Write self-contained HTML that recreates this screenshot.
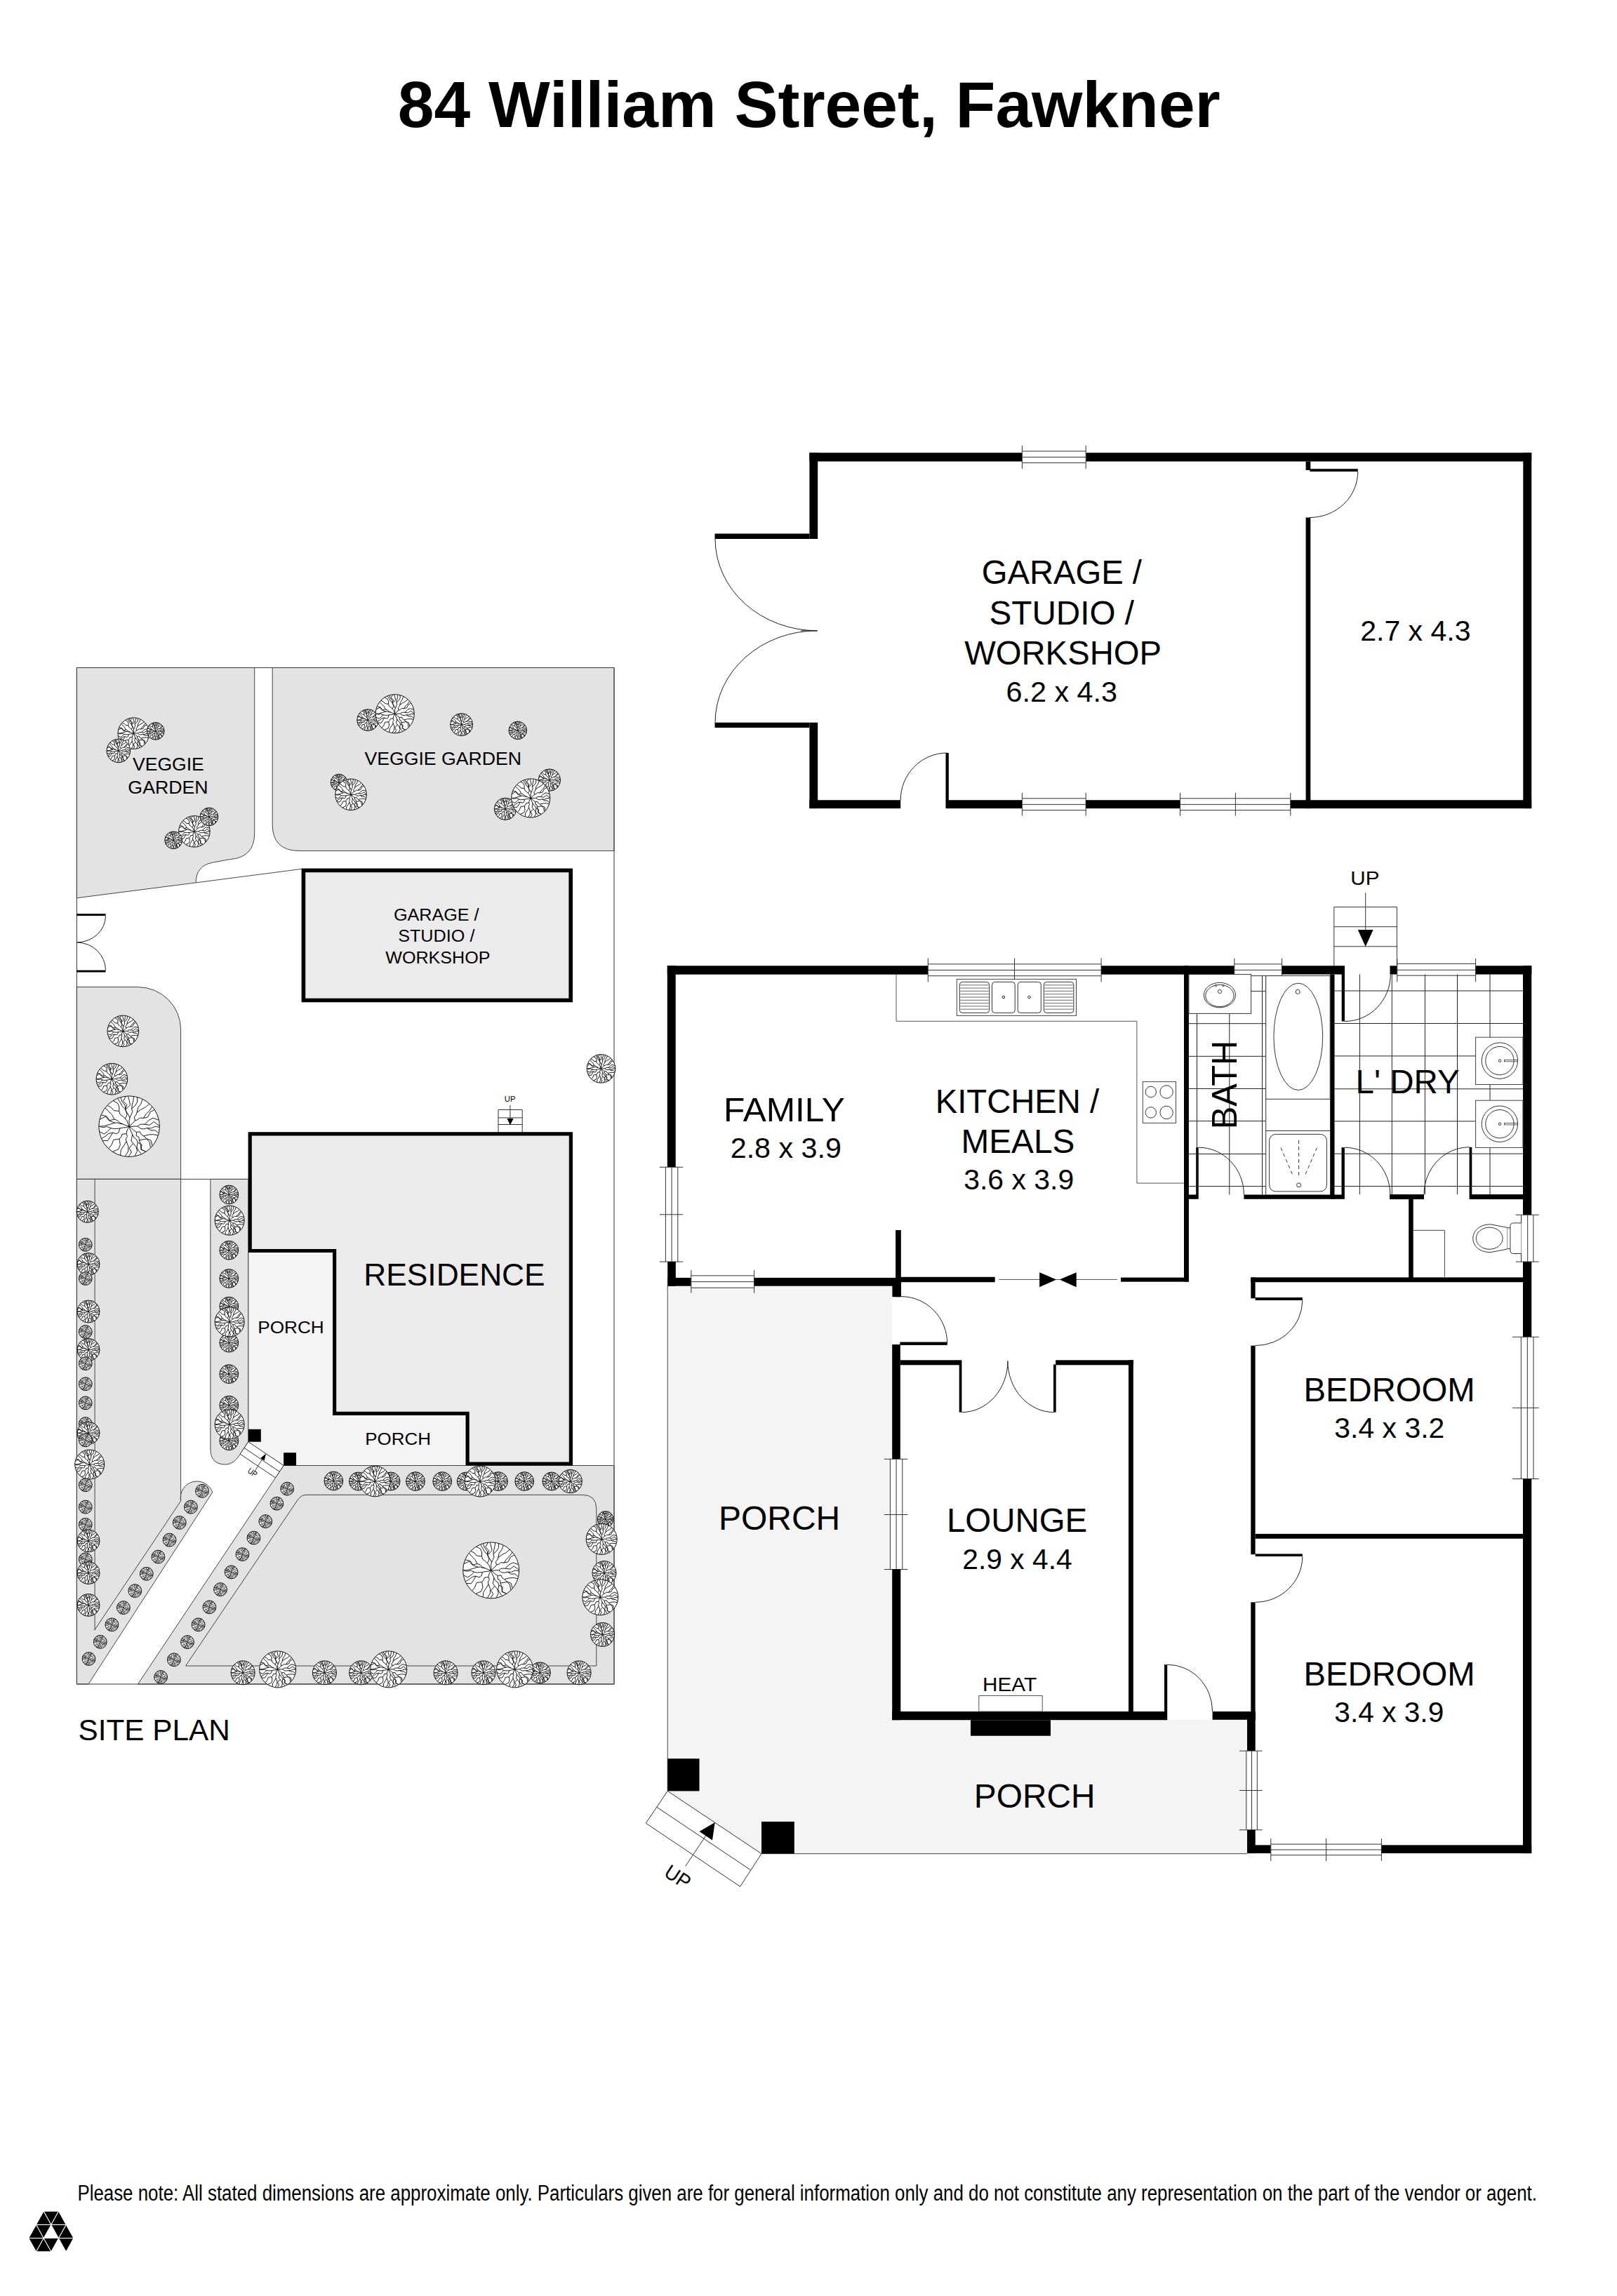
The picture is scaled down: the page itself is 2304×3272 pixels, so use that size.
<!DOCTYPE html>
<html><head><meta charset="utf-8"><style>
html,body{margin:0;padding:0;background:#fff;}
svg{display:block;font-family:"Liberation Sans",sans-serif;}
</style></head><body>
<svg width="2304" height="3272" viewBox="0 0 2304 3272">
<defs><g id="tree"><circle r="1" fill="#fff" stroke="#111" stroke-width="1" vector-effect="non-scaling-stroke"/><path d="M0.000 0.000L0.092 0.006L0.184 -0.004L0.276 -0.004M0.276 -0.004L0.350 -0.065L0.429 -0.070L0.510 -0.068M0.510 -0.068L0.642 -0.201L0.784 -0.278L0.968 -0.208M0.510 -0.068L0.671 -0.045L0.817 -0.153L0.990 -0.015M0.276 -0.004L0.375 0.070L0.479 0.086L0.590 0.056M0.590 0.056L0.722 0.062L0.857 0.001L0.990 0.025M0.590 0.056L0.713 0.133L0.848 0.126L0.965 0.221M0.000 0.000L0.079 0.064L0.154 0.132L0.237 0.191M0.237 0.191L0.352 0.175L0.400 0.268L0.474 0.317M0.474 0.317L0.657 0.270L0.807 0.266L0.945 0.296M0.474 0.317L0.581 0.408L0.715 0.460L0.759 0.636M0.237 0.191L0.236 0.312L0.319 0.355L0.332 0.456M0.332 0.456L0.575 0.411L0.671 0.519L0.701 0.699M0.332 0.456L0.379 0.596L0.388 0.754L0.543 0.828M0.000 0.000L0.024 0.091L0.064 0.178L0.104 0.263M0.104 0.263L0.150 0.358L0.242 0.431L0.281 0.529M0.281 0.529L0.415 0.600L0.391 0.766L0.546 0.826M0.281 0.529L0.249 0.686L0.310 0.802L0.399 0.906M0.104 0.263L0.086 0.371L0.065 0.474L0.132 0.561M0.132 0.561L0.229 0.677L0.264 0.810L0.186 0.972M0.132 0.561L-0.002 0.714L0.074 0.849L-0.018 0.990M0.000 0.000L-0.042 0.076L-0.077 0.155L-0.093 0.242M-0.093 0.242L-0.059 0.335L-0.111 0.405L-0.093 0.492M-0.093 0.492L-0.027 0.663L-0.036 0.826L-0.131 0.981M-0.093 0.492L-0.179 0.639L-0.273 0.780L-0.288 0.947M-0.093 0.242L-0.234 0.257L-0.265 0.347L-0.325 0.412M-0.325 0.412L-0.294 0.613L-0.357 0.755L-0.541 0.829M-0.325 0.412L-0.517 0.442L-0.576 0.604L-0.675 0.724M0.000 0.000L-0.099 0.034L-0.205 0.041L-0.307 0.065M-0.307 0.065L-0.348 0.200L-0.421 0.248L-0.538 0.206M-0.538 0.206L-0.624 0.347L-0.709 0.473L-0.875 0.463M-0.538 0.206L-0.674 0.236L-0.788 0.325L-0.907 0.397M-0.307 0.065L-0.405 0.075L-0.503 0.078L-0.603 0.057M-0.603 0.057L-0.714 0.170L-0.825 0.250L-0.974 0.177M-0.603 0.057L-0.734 0.006L-0.861 0.036L-0.990 -0.003M0.000 0.000L-0.073 -0.020L-0.144 -0.046L-0.213 -0.077M-0.213 -0.077L-0.299 -0.088L-0.379 -0.119L-0.468 -0.117M-0.468 -0.117L-0.648 -0.063L-0.821 -0.014L-0.990 0.002M-0.468 -0.117L-0.629 -0.171L-0.747 -0.339L-0.916 -0.375M-0.213 -0.077L-0.310 -0.118L-0.389 -0.199L-0.489 -0.234M-0.489 -0.234L-0.665 -0.189L-0.775 -0.327L-0.963 -0.229M-0.489 -0.234L-0.572 -0.388L-0.679 -0.495L-0.782 -0.607M0.000 0.000L-0.038 -0.089L-0.071 -0.180L-0.134 -0.258M-0.134 -0.258L-0.212 -0.332L-0.301 -0.396L-0.330 -0.501M-0.330 -0.501L-0.510 -0.523L-0.594 -0.622L-0.715 -0.685M-0.330 -0.501L-0.330 -0.651L-0.385 -0.769L-0.525 -0.839M-0.134 -0.258L-0.069 -0.379L-0.096 -0.470L-0.130 -0.559M-0.130 -0.559L-0.235 -0.673L-0.303 -0.796L-0.376 -0.916M-0.130 -0.559L-0.072 -0.709L-0.200 -0.828L-0.115 -0.983M0.000 0.000L0.003 -0.093L-0.003 -0.187L0.019 -0.279M0.019 -0.279L-0.019 -0.373L-0.079 -0.461L-0.119 -0.549M-0.119 -0.549L-0.136 -0.691L-0.235 -0.814L-0.280 -0.950M-0.119 -0.549L0.034 -0.704L0.003 -0.847L-0.035 -0.989M0.019 -0.279L0.062 -0.378L0.108 -0.474L0.082 -0.584M0.082 -0.584L0.098 -0.716L0.132 -0.846L0.147 -0.979M0.082 -0.584L0.203 -0.694L0.270 -0.813L0.266 -0.953M0.000 0.000L0.066 -0.061L0.132 -0.122L0.194 -0.188M0.194 -0.188L0.166 -0.311L0.224 -0.373L0.252 -0.452M0.252 -0.452L0.288 -0.610L0.384 -0.739L0.435 -0.889M0.252 -0.452L0.386 -0.553L0.539 -0.635L0.660 -0.738M0.194 -0.188L0.281 -0.222L0.348 -0.280L0.463 -0.269M0.463 -0.269L0.553 -0.406L0.663 -0.513L0.754 -0.642M0.463 -0.269L0.614 -0.307L0.691 -0.475L0.828 -0.543" fill="none" stroke="#111" stroke-width="0.95" vector-effect="non-scaling-stroke"/></g><g id="treeS"><circle r="1" fill="#fff" stroke="#111" stroke-width="1" vector-effect="non-scaling-stroke"/><path d="M0.000 0.000L0.098 0.009L0.195 0.023L0.293 0.024M0.293 0.024L0.363 -0.066L0.441 -0.042L0.512 -0.076M0.512 -0.076L0.622 -0.261L0.786 -0.272L0.922 -0.361M0.512 -0.076L0.675 -0.008L0.832 -0.005L0.984 -0.106M0.293 0.024L0.367 0.077L0.432 0.144L0.513 0.156M0.513 0.156L0.672 0.145L0.835 0.079L0.974 0.178M0.513 0.156L0.663 0.182L0.813 0.204L0.911 0.388M0.000 0.000L0.057 0.057L0.116 0.112L0.191 0.148M0.191 0.148L0.290 0.164L0.386 0.177L0.436 0.275M0.436 0.275L0.612 0.282L0.760 0.338L0.942 0.303M0.436 0.275L0.559 0.377L0.706 0.441L0.842 0.521M0.191 0.148L0.203 0.244L0.234 0.315L0.318 0.344M0.318 0.344L0.470 0.438L0.600 0.553L0.663 0.735M0.318 0.344L0.323 0.555L0.431 0.693L0.497 0.856M0.000 0.000L-0.011 0.074L0.004 0.150L-0.024 0.224M-0.024 0.224L0.026 0.298L0.061 0.369L0.056 0.444M0.056 0.444L0.184 0.601L0.218 0.779L0.131 0.981M0.056 0.444L0.075 0.624L0.015 0.809L-0.012 0.990M-0.024 0.224L-0.077 0.321L-0.102 0.423L-0.143 0.521M-0.143 0.521L-0.034 0.689L-0.138 0.829L-0.171 0.975M-0.143 0.521L-0.313 0.615L-0.266 0.797L-0.462 0.875M0.000 0.000L-0.053 0.066L-0.114 0.125L-0.150 0.205M-0.150 0.205L-0.140 0.316L-0.178 0.399L-0.203 0.488M-0.203 0.488L-0.207 0.650L-0.329 0.769L-0.440 0.887M-0.203 0.488L-0.310 0.608L-0.365 0.752L-0.576 0.805M-0.150 0.205L-0.261 0.226L-0.321 0.296L-0.410 0.332M-0.410 0.332L-0.449 0.513L-0.546 0.633L-0.596 0.790M-0.410 0.332L-0.606 0.312L-0.674 0.495L-0.844 0.518M0.000 0.000L-0.077 -0.011L-0.153 -0.028L-0.231 -0.029M-0.231 -0.029L-0.308 0.032L-0.382 0.060L-0.463 0.014M-0.463 0.014L-0.626 0.128L-0.810 0.084L-0.982 0.128M-0.463 0.014L-0.636 -0.059L-0.815 0.001L-0.990 -0.005M-0.231 -0.029L-0.317 -0.095L-0.414 -0.109L-0.506 -0.145M-0.506 -0.145L-0.669 -0.126L-0.799 -0.244L-0.948 -0.285M-0.506 -0.145L-0.625 -0.269L-0.775 -0.312L-0.929 -0.343M0.000 0.000L-0.062 -0.054L-0.123 -0.110L-0.199 -0.147M-0.199 -0.147L-0.304 -0.167L-0.392 -0.213L-0.474 -0.268M-0.474 -0.268L-0.639 -0.269L-0.798 -0.266L-0.927 -0.348M-0.474 -0.268L-0.563 -0.404L-0.690 -0.481L-0.851 -0.507M-0.199 -0.147L-0.223 -0.272L-0.294 -0.350L-0.404 -0.390M-0.404 -0.390L-0.544 -0.448L-0.611 -0.587L-0.740 -0.658M-0.404 -0.390L-0.359 -0.606L-0.454 -0.716L-0.507 -0.850M0.000 0.000L-0.000 -0.095L0.003 -0.190L-0.021 -0.284M-0.021 -0.284L-0.082 -0.378L-0.078 -0.483L-0.097 -0.583M-0.097 -0.583L-0.256 -0.677L-0.355 -0.780L-0.299 -0.944M-0.097 -0.583L-0.035 -0.723L-0.112 -0.850L-0.091 -0.986M-0.021 -0.284L0.075 -0.374L0.046 -0.477L0.118 -0.564M0.118 -0.564L0.043 -0.713L0.013 -0.852L0.052 -0.989M0.118 -0.564L0.232 -0.676L0.257 -0.813L0.312 -0.939M0.000 0.000L0.047 -0.063L0.098 -0.123L0.132 -0.196M0.132 -0.196L0.122 -0.307L0.187 -0.381L0.208 -0.476M0.208 -0.476L0.210 -0.642L0.285 -0.783L0.316 -0.938M0.208 -0.476L0.315 -0.598L0.367 -0.748L0.504 -0.852M0.132 -0.196L0.241 -0.213L0.304 -0.272L0.347 -0.352M0.347 -0.352L0.362 -0.551L0.502 -0.654L0.585 -0.799M0.347 -0.352L0.542 -0.376L0.652 -0.505L0.854 -0.501" fill="none" stroke="#111" stroke-width="0.75" vector-effect="non-scaling-stroke"/></g></defs>
<rect width="2304" height="3272" fill="#fff"/>
<text x="566.79" y="181" font-size="93.28" font-weight="700" textLength="1172.01" lengthAdjust="spacingAndGlyphs" fill="#000">84 William Street, Fawkner</text>
<rect x="1153.4" y="645.2" width="303" height="12.4" fill="#000"/>
<rect x="1547.2" y="645.2" width="635" height="12.4" fill="#000"/>
<rect x="1456.4" y="643" width="90.8" height="16.6" fill="#fff"/>
<line x1="1456.4" y1="643" x2="1547.2" y2="643" stroke="#333" stroke-width="1"/>
<line x1="1456.4" y1="651.4" x2="1547.2" y2="651.4" stroke="#333" stroke-width="1"/>
<line x1="1456.4" y1="659.6" x2="1547.2" y2="659.6" stroke="#333" stroke-width="1"/>
<line x1="1456.4" y1="634.8" x2="1456.4" y2="668.2" stroke="#333" stroke-width="1"/>
<line x1="1547.2" y1="634.8" x2="1547.2" y2="668.2" stroke="#333" stroke-width="1"/>
<rect x="1153.4" y="645.2" width="11.8" height="122.8" fill="#000"/>
<rect x="1018.5" y="760.5" width="134.9" height="7.5" fill="#000"/>
<rect x="1018.5" y="1029.7" width="134.9" height="7.3" fill="#000"/>
<rect x="1153.4" y="1029.7" width="11.8" height="122.4" fill="#000"/>
<path d="M1019 768A145.5 130.8 0 0 0 1164.5 898.8" fill="none" stroke="#222" stroke-width="1"/>
<path d="M1164.5 898.8A145.5 130.9 0 0 0 1019 1029.7" fill="none" stroke="#222" stroke-width="1"/>
<line x1="1141" y1="898.8" x2="1164.5" y2="898.8" stroke="#222" stroke-width="1"/>
<rect x="1153.4" y="1140.2" width="129.8" height="11.9" fill="#000"/>
<rect x="1347.5" y="1073" width="4.3" height="79.1" fill="#000"/>
<path d="M1283.2 1140.2A66.3 67.2 0 0 1 1349.5 1073" fill="none" stroke="#222" stroke-width="1"/>
<rect x="1351.3" y="1140.2" width="105.1" height="11.9" fill="#000"/>
<rect x="1456.4" y="1137.8" width="90.8" height="16.8" fill="#fff"/>
<line x1="1456.4" y1="1137.8" x2="1547.2" y2="1137.8" stroke="#333" stroke-width="1"/>
<line x1="1456.4" y1="1146.4" x2="1547.2" y2="1146.4" stroke="#333" stroke-width="1"/>
<line x1="1456.4" y1="1154.6" x2="1547.2" y2="1154.6" stroke="#333" stroke-width="1"/>
<line x1="1456.4" y1="1129.8" x2="1456.4" y2="1162.7" stroke="#333" stroke-width="1"/>
<line x1="1547.2" y1="1129.8" x2="1547.2" y2="1162.7" stroke="#333" stroke-width="1"/>
<rect x="1547.2" y="1140.2" width="134.3" height="11.9" fill="#000"/>
<rect x="1681.5" y="1137.8" width="157.3" height="16.8" fill="#fff"/>
<line x1="1681.5" y1="1137.8" x2="1838.8" y2="1137.8" stroke="#333" stroke-width="1"/>
<line x1="1681.5" y1="1146.4" x2="1838.8" y2="1146.4" stroke="#333" stroke-width="1"/>
<line x1="1681.5" y1="1154.6" x2="1838.8" y2="1154.6" stroke="#333" stroke-width="1"/>
<line x1="1681.5" y1="1129.8" x2="1681.5" y2="1162.7" stroke="#333" stroke-width="1"/>
<line x1="1838.8" y1="1129.8" x2="1838.8" y2="1162.7" stroke="#333" stroke-width="1"/>
<line x1="1760.4" y1="1129.8" x2="1760.4" y2="1162.7" stroke="#333" stroke-width="1"/>
<rect x="1838.8" y="1140.2" width="343.4" height="11.9" fill="#000"/>
<rect x="2170.3" y="645.2" width="11.9" height="506.9" fill="#000"/>
<rect x="1860.6" y="657.6" width="6.7" height="12.4" fill="#000"/>
<rect x="1866.3" y="668.2" width="68.5" height="3.8" fill="#000"/>
<path d="M1934.8 672A68.5 65.5 0 0 1 1866.3 737.5" fill="none" stroke="#222" stroke-width="1"/>
<rect x="1860.6" y="737.5" width="6.7" height="414.6" fill="#000"/>
<text x="1398.78" y="832.2" font-size="47.69" textLength="228.2" lengthAdjust="spacingAndGlyphs" fill="#000">GARAGE /</text>
<text x="1409.58" y="889.6" font-size="47.69" textLength="206.4" lengthAdjust="spacingAndGlyphs" fill="#000">STUDIO /</text>
<text x="1374.2" y="946.8" font-size="47.69" textLength="280.81" lengthAdjust="spacingAndGlyphs" fill="#000">WORKSHOP</text>
<text x="1433.55" y="1000" font-size="40.12" textLength="158.49" lengthAdjust="spacingAndGlyphs" fill="#000">6.2 x 4.3</text>
<text x="1938.15" y="913.1" font-size="40.12" textLength="157.47" lengthAdjust="spacingAndGlyphs" fill="#000">2.7 x 4.3</text>
<path d="M951.2 1832.7H1271.3V2451H1777V2641.7H1085L951.2 2552.4Z" fill="#f4f4f4"/>
<line x1="951.2" y1="1832.7" x2="951.2" y2="2552.4" stroke="#444" stroke-width="1"/>
<line x1="1085" y1="2641.7" x2="1777" y2="2641.7" stroke="#444" stroke-width="1"/>
<rect x="950.8" y="1376.3" width="371.5" height="12.4" fill="#000"/>
<rect x="1322.3" y="1373.9" width="246.8" height="16.8" fill="#fff"/>
<line x1="1322.3" y1="1373.9" x2="1569.1" y2="1373.9" stroke="#333" stroke-width="1"/>
<line x1="1322.3" y1="1382.5" x2="1569.1" y2="1382.5" stroke="#333" stroke-width="1"/>
<line x1="1322.3" y1="1390.7" x2="1569.1" y2="1390.7" stroke="#333" stroke-width="1"/>
<line x1="1322.3" y1="1365.5" x2="1322.3" y2="1399.4" stroke="#333" stroke-width="1"/>
<line x1="1569.1" y1="1365.5" x2="1569.1" y2="1399.4" stroke="#333" stroke-width="1"/>
<line x1="1445.5" y1="1365.5" x2="1445.5" y2="1399.4" stroke="#333" stroke-width="1"/>
<rect x="1569.1" y="1376.3" width="189.7" height="12.4" fill="#000"/>
<rect x="1758.8" y="1373.9" width="67.8" height="16.7" fill="#fff"/>
<line x1="1758.8" y1="1373.9" x2="1826.6" y2="1373.9" stroke="#333" stroke-width="1"/>
<line x1="1758.8" y1="1382.4" x2="1826.6" y2="1382.4" stroke="#333" stroke-width="1"/>
<line x1="1758.8" y1="1390.6" x2="1826.6" y2="1390.6" stroke="#333" stroke-width="1"/>
<line x1="1758.8" y1="1365.6" x2="1758.8" y2="1399.2" stroke="#333" stroke-width="1"/>
<line x1="1826.6" y1="1365.6" x2="1826.6" y2="1399.2" stroke="#333" stroke-width="1"/>
<rect x="1826.6" y="1376.3" width="85.9" height="12.3" fill="#000"/>
<rect x="1980.5" y="1376.3" width="10.3" height="12.3" fill="#000"/>
<rect x="1990.8" y="1373.4" width="111.8" height="16.8" fill="#fff"/>
<line x1="1990.8" y1="1373.4" x2="2102.6" y2="1373.4" stroke="#333" stroke-width="1"/>
<line x1="1990.8" y1="1382.3" x2="2102.6" y2="1382.3" stroke="#333" stroke-width="1"/>
<line x1="1990.8" y1="1390.2" x2="2102.6" y2="1390.2" stroke="#333" stroke-width="1"/>
<line x1="1990.8" y1="1365.9" x2="1990.8" y2="1399.1" stroke="#333" stroke-width="1"/>
<line x1="2102.6" y1="1365.9" x2="2102.6" y2="1399.1" stroke="#333" stroke-width="1"/>
<rect x="2102.6" y="1376.3" width="79.7" height="12.3" fill="#000"/>
<rect x="2170" y="1376.3" width="12.2" height="355" fill="#000"/>
<rect x="2167.5" y="1731.3" width="17.4" height="66.8" fill="#fff"/>
<line x1="2167.5" y1="1731.3" x2="2167.5" y2="1798.1" stroke="#333" stroke-width="1"/>
<line x1="2176.7" y1="1731.3" x2="2176.7" y2="1798.1" stroke="#333" stroke-width="1"/>
<line x1="2184.9" y1="1731.3" x2="2184.9" y2="1798.1" stroke="#333" stroke-width="1"/>
<line x1="2159.6" y1="1731.3" x2="2192.7" y2="1731.3" stroke="#333" stroke-width="1"/>
<line x1="2159.6" y1="1798.1" x2="2192.7" y2="1798.1" stroke="#333" stroke-width="1"/>
<rect x="2170" y="1798.1" width="12.2" height="107.2" fill="#000"/>
<rect x="2167.3" y="1905.3" width="17.7" height="202.2" fill="#fff"/>
<line x1="2167.3" y1="1905.3" x2="2167.3" y2="2107.5" stroke="#333" stroke-width="1"/>
<line x1="2176.3" y1="1905.3" x2="2176.3" y2="2107.5" stroke="#333" stroke-width="1"/>
<line x1="2185" y1="1905.3" x2="2185" y2="2107.5" stroke="#333" stroke-width="1"/>
<line x1="2155" y1="1905.3" x2="2192.7" y2="1905.3" stroke="#333" stroke-width="1"/>
<line x1="2155" y1="2107.5" x2="2192.7" y2="2107.5" stroke="#333" stroke-width="1"/>
<line x1="2155" y1="2006.3" x2="2192.7" y2="2006.3" stroke="#333" stroke-width="1"/>
<rect x="2170" y="2107.5" width="12.2" height="533.6" fill="#000"/>
<rect x="1777" y="2629.4" width="33.8" height="11.7" fill="#000"/>
<rect x="1810.8" y="2628.1" width="157.6" height="15.6" fill="#fff"/>
<line x1="1810.8" y1="2628.1" x2="1968.4" y2="2628.1" stroke="#333" stroke-width="1"/>
<line x1="1810.8" y1="2636" x2="1968.4" y2="2636" stroke="#333" stroke-width="1"/>
<line x1="1810.8" y1="2643.7" x2="1968.4" y2="2643.7" stroke="#333" stroke-width="1"/>
<line x1="1810.8" y1="2620" x2="1810.8" y2="2652" stroke="#333" stroke-width="1"/>
<line x1="1968.4" y1="2620" x2="1968.4" y2="2652" stroke="#333" stroke-width="1"/>
<line x1="1889.6" y1="2620" x2="1889.6" y2="2652" stroke="#333" stroke-width="1"/>
<rect x="1968.4" y="2629.4" width="213.8" height="11.7" fill="#000"/>
<rect x="1777" y="2439" width="11.7" height="56.2" fill="#000"/>
<rect x="1775.8" y="2495.2" width="15.5" height="112.6" fill="#fff"/>
<line x1="1775.8" y1="2495.2" x2="1775.8" y2="2607.8" stroke="#333" stroke-width="1"/>
<line x1="1783.5" y1="2495.2" x2="1783.5" y2="2607.8" stroke="#333" stroke-width="1"/>
<line x1="1791.3" y1="2495.2" x2="1791.3" y2="2607.8" stroke="#333" stroke-width="1"/>
<line x1="1766" y1="2495.2" x2="1798.7" y2="2495.2" stroke="#333" stroke-width="1"/>
<line x1="1766" y1="2607.8" x2="1798.7" y2="2607.8" stroke="#333" stroke-width="1"/>
<line x1="1766" y1="2551.5" x2="1798.7" y2="2551.5" stroke="#333" stroke-width="1"/>
<rect x="1777" y="2607.8" width="11.7" height="33.3" fill="#000"/>
<rect x="1782.3" y="1820.4" width="6.3" height="29.9" fill="#000"/>
<rect x="1788.6" y="1849" width="67.2" height="4" fill="#000"/>
<path d="M1855.8 1853A67.2 64.6 0 0 1 1788.6 1917.6" fill="none" stroke="#222" stroke-width="1"/>
<rect x="1782.3" y="1917.6" width="6.3" height="297.6" fill="#000"/>
<rect x="1788.6" y="2214.4" width="67.2" height="3.6" fill="#000"/>
<path d="M1855.8 2218A67.2 65.3 0 0 1 1788.6 2283.3" fill="none" stroke="#222" stroke-width="1"/>
<rect x="1782.3" y="2283.3" width="6.3" height="157.7" fill="#000"/>
<rect x="1782.3" y="1820.4" width="387.7" height="6.8" fill="#000"/>
<rect x="1788.6" y="2185.9" width="381.4" height="6.8" fill="#000"/>
<rect x="950.8" y="1376.3" width="11.9" height="287" fill="#000"/>
<rect x="948.4" y="1663.3" width="17.4" height="134.8" fill="#fff"/>
<line x1="948.4" y1="1663.3" x2="948.4" y2="1798.1" stroke="#333" stroke-width="1"/>
<line x1="957.1" y1="1663.3" x2="957.1" y2="1798.1" stroke="#333" stroke-width="1"/>
<line x1="965.8" y1="1663.3" x2="965.8" y2="1798.1" stroke="#333" stroke-width="1"/>
<line x1="939.8" y1="1663.3" x2="973.2" y2="1663.3" stroke="#333" stroke-width="1"/>
<line x1="939.8" y1="1798.1" x2="973.2" y2="1798.1" stroke="#333" stroke-width="1"/>
<line x1="939.8" y1="1730.8" x2="973.2" y2="1730.8" stroke="#333" stroke-width="1"/>
<rect x="951.2" y="1798.1" width="11.6" height="34.6" fill="#000"/>
<rect x="951.2" y="1820.9" width="33.6" height="11.8" fill="#000"/>
<rect x="984.8" y="1817.9" width="89.8" height="17.3" fill="#fff"/>
<line x1="984.8" y1="1817.9" x2="1074.6" y2="1817.9" stroke="#333" stroke-width="1"/>
<line x1="984.8" y1="1826.6" x2="1074.6" y2="1826.6" stroke="#333" stroke-width="1"/>
<line x1="984.8" y1="1835.2" x2="1074.6" y2="1835.2" stroke="#333" stroke-width="1"/>
<line x1="984.8" y1="1810" x2="984.8" y2="1842.6" stroke="#333" stroke-width="1"/>
<line x1="1074.6" y1="1810" x2="1074.6" y2="1842.6" stroke="#333" stroke-width="1"/>
<rect x="1074.6" y="1820.9" width="208.6" height="11.8" fill="#000"/>
<rect x="1276.1" y="1753" width="7.7" height="95.2" fill="#000"/>
<rect x="1271.4" y="1827.2" width="12.4" height="21" fill="#000"/>
<rect x="1276" y="1819.8" width="141.7" height="7.4" fill="#000"/>
<line x1="1423.3" y1="1823.5" x2="1591.8" y2="1823.5" stroke="#555" stroke-width="1"/>
<path d="M1481.1 1813.3L1505.2 1823.5L1481.1 1834.3Z" fill="#000"/>
<path d="M1533.7 1813.3L1509.8 1823.5L1533.7 1834.3Z" fill="#000"/>
<rect x="1597" y="1820.6" width="96.5" height="6" fill="#000"/>
<rect x="1687" y="1376.3" width="6.9" height="450.3" fill="#000"/>
<rect x="1282.3" y="1912.5" width="67.4" height="4.4" fill="#000"/>
<path d="M1283.8 1847.6A65.9 67.1 0 0 1 1349.7 1914.7" fill="none" stroke="#222" stroke-width="1"/>
<rect x="1271.2" y="1916" width="11.6" height="163.3" fill="#000"/>
<rect x="1268.4" y="2079.3" width="17.4" height="157.2" fill="#fff"/>
<line x1="1268.4" y1="2079.3" x2="1268.4" y2="2236.5" stroke="#333" stroke-width="1"/>
<line x1="1277.1" y1="2079.3" x2="1277.1" y2="2236.5" stroke="#333" stroke-width="1"/>
<line x1="1285.8" y1="2079.3" x2="1285.8" y2="2236.5" stroke="#333" stroke-width="1"/>
<line x1="1259.8" y1="2079.3" x2="1293.2" y2="2079.3" stroke="#333" stroke-width="1"/>
<line x1="1259.8" y1="2236.5" x2="1293.2" y2="2236.5" stroke="#333" stroke-width="1"/>
<line x1="1259.8" y1="2158.5" x2="1293.2" y2="2158.5" stroke="#333" stroke-width="1"/>
<rect x="1271.2" y="2236.5" width="12.1" height="214.7" fill="#000"/>
<rect x="1282.8" y="1938.3" width="84.6" height="7" fill="#000"/>
<rect x="1366.7" y="1938.3" width="3.7" height="74.3" fill="#000"/>
<rect x="1501" y="1944.5" width="3.7" height="68.1" fill="#000"/>
<rect x="1504.2" y="1938.3" width="110.6" height="7" fill="#000"/>
<path d="M1370.4 2012.6A65.5 73 0 0 0 1435.9 1939.6" fill="none" stroke="#222" stroke-width="1"/>
<path d="M1435.9 1939.6A65.8 73 0 0 0 1501.7 2012.6" fill="none" stroke="#222" stroke-width="1"/>
<rect x="1608" y="1938.3" width="6.8" height="500.7" fill="#000"/>
<rect x="1271.2" y="2439" width="388.9" height="12.2" fill="#000"/>
<rect x="1659" y="2372.2" width="4.2" height="79" fill="#000"/>
<path d="M1663.2 2372.2A64.4 66.8 0 0 1 1727.6 2439" fill="none" stroke="#222" stroke-width="1"/>
<rect x="1727.6" y="2439" width="61.4" height="11.8" fill="#000"/>
<rect x="1383" y="2451.2" width="114" height="22.5" fill="#000"/>
<rect x="1394.8" y="2416.5" width="90.4" height="22.5" fill="none" stroke="#555" stroke-width="1"/>
<rect x="951.2" y="2506.2" width="45.3" height="46.2" fill="#000"/>
<rect x="1085" y="2596" width="46.8" height="45.7" fill="#000"/>
<path d="M951.2 2552.4L1085 2641.7L1054.6 2688.5L920.3 2598.2Z" fill="#fff" stroke="#333" stroke-width="1"/>
<line x1="935.8" y1="2575.3" x2="1069.8" y2="2665.1" stroke="#333" stroke-width="1"/>
<line x1="976.7" y1="2659.5" x2="1008" y2="2612.5" stroke="#333" stroke-width="1"/>
<path d="M1018.7 2597L996.5 2610L1015 2622.4Z" fill="#000"/>
<rect x="1895.2" y="1388.6" width="6.3" height="320.2" fill="#000"/>
<rect x="1687" y="1702.5" width="17.7" height="6.3" fill="#000"/>
<rect x="1704.1" y="1635.2" width="3.6" height="73.6" fill="#000"/>
<path d="M1707.7 1635.2A64.7 67.3 0 0 1 1772.4 1702.5" fill="none" stroke="#222" stroke-width="1"/>
<rect x="1772.4" y="1702.5" width="140.1" height="6.3" fill="#000"/>
<rect x="1911.5" y="1635.2" width="4.4" height="73.6" fill="#000"/>
<path d="M1915.9 1635.2A64.9 67.3 0 0 1 1980.8 1702.5" fill="none" stroke="#222" stroke-width="1"/>
<rect x="1911.7" y="1376.3" width="4.3" height="79.2" fill="#000"/>
<path d="M1916 1455.5A65.3 66.9 0 0 0 1981.3 1388.6" fill="none" stroke="#222" stroke-width="1"/>
<rect x="1980" y="1702.1" width="49" height="7" fill="#000"/>
<rect x="2096.8" y="1702.1" width="73.2" height="7" fill="#000"/>
<rect x="2093.6" y="1634.8" width="3.7" height="74.3" fill="#000"/>
<path d="M2093.6 1634.8A64.6 67.6 0 0 0 2029 1702.4" fill="none" stroke="#222" stroke-width="1"/>
<rect x="2007.2" y="1709" width="6.5" height="118" fill="#000"/>
<line x1="1937.4" y1="1388.6" x2="1937.4" y2="1702.1" stroke="#222" stroke-width="1"/>
<line x1="1983.3" y1="1388.6" x2="1983.3" y2="1702.1" stroke="#222" stroke-width="1"/>
<line x1="2030.4" y1="1388.6" x2="2030.4" y2="1702.1" stroke="#222" stroke-width="1"/>
<line x1="2076.5" y1="1388.6" x2="2076.5" y2="1702.1" stroke="#222" stroke-width="1"/>
<line x1="2123" y1="1388.6" x2="2123" y2="1702.1" stroke="#222" stroke-width="1"/>
<line x1="1901.5" y1="1412" x2="2170" y2="1412" stroke="#222" stroke-width="1"/>
<line x1="1901.5" y1="1458.5" x2="2170" y2="1458.5" stroke="#222" stroke-width="1"/>
<line x1="1901.5" y1="1504.9" x2="2170" y2="1504.9" stroke="#222" stroke-width="1"/>
<line x1="1901.5" y1="1551.8" x2="2170" y2="1551.8" stroke="#222" stroke-width="1"/>
<line x1="1901.5" y1="1597.9" x2="2170" y2="1597.9" stroke="#222" stroke-width="1"/>
<line x1="1901.5" y1="1644.2" x2="2170" y2="1644.2" stroke="#222" stroke-width="1"/>
<line x1="1901.5" y1="1690.5" x2="2170" y2="1690.5" stroke="#222" stroke-width="1"/>
<line x1="1782.6" y1="1412.5" x2="1803.7" y2="1412.5" stroke="#333" stroke-width="1"/>
<line x1="1693.9" y1="1458.7" x2="1803.7" y2="1458.7" stroke="#222" stroke-width="1"/>
<line x1="1693.9" y1="1505.3" x2="1803.7" y2="1505.3" stroke="#222" stroke-width="1"/>
<line x1="1693.9" y1="1551.5" x2="1803.7" y2="1551.5" stroke="#222" stroke-width="1"/>
<line x1="1693.9" y1="1597.6" x2="1803.7" y2="1597.6" stroke="#222" stroke-width="1"/>
<line x1="1693.9" y1="1644.5" x2="1803.7" y2="1644.5" stroke="#222" stroke-width="1"/>
<line x1="1693.9" y1="1690.6" x2="1803.7" y2="1690.6" stroke="#222" stroke-width="1"/>
<line x1="1705.5" y1="1444.4" x2="1705.5" y2="1702.5" stroke="#222" stroke-width="1"/>
<line x1="1751.8" y1="1444.4" x2="1751.8" y2="1702.5" stroke="#222" stroke-width="1"/>
<line x1="1798.5" y1="1390.6" x2="1798.5" y2="1702.5" stroke="#222" stroke-width="1"/>
<line x1="1803.7" y1="1390.6" x2="1803.7" y2="1702.5" stroke="#333" stroke-width="1"/>
<rect x="1693.9" y="1388.6" width="88.7" height="55.8" fill="#fff" stroke="#333" stroke-width="1"/>
<ellipse cx="1737.9" cy="1418.1" rx="22.6" ry="17.8" fill="#fff" stroke="#333" stroke-width="1"/>
<ellipse cx="1737.9" cy="1419" rx="20.2" ry="15.6" fill="none" stroke="#333" stroke-width="1"/>
<circle cx="1737.9" cy="1413" r="2.6" fill="none" stroke="#333" stroke-width="0.9"/>
<circle cx="1732.5" cy="1404.6" r="1.3" fill="none" stroke="#333" stroke-width="0.8"/>
<circle cx="1742.9" cy="1404.6" r="1.3" fill="none" stroke="#333" stroke-width="0.8"/>
<rect x="1803.7" y="1390.6" width="91.5" height="175.7" fill="#fff" stroke="#333" stroke-width="1"/>
<ellipse cx="1849.8" cy="1477.3" rx="34.9" ry="76.2" fill="none" stroke="#333" stroke-width="1"/>
<circle cx="1849.2" cy="1413.4" r="3" fill="none" stroke="#333" stroke-width="1"/>
<line x1="1803.7" y1="1611.5" x2="1895.2" y2="1611.5" stroke="#333" stroke-width="1"/>
<rect x="1808.6" y="1616.4" width="81.8" height="81.5" rx="9" fill="none" stroke="#333" stroke-width="1"/>
<path d="M1850.6 1625V1675M1825 1635.6L1843 1677M1876.5 1635.6L1858.5 1677" stroke="#333" stroke-width="1" stroke-dasharray="5 4"/>
<circle cx="1850.6" cy="1688.8" r="3" fill="none" stroke="#333" stroke-width="1"/>
<rect x="2102.6" y="1478.2" width="67.3" height="67.3" fill="#fff" stroke="#444" stroke-width="1"/>
<circle cx="2136.9" cy="1511.6" r="25.7" fill="none" stroke="#333" stroke-width="1"/>
<circle cx="2136.9" cy="1511.6" r="20.2" fill="none" stroke="#333" stroke-width="1"/>
<circle cx="2137" cy="1511.6" r="1.8" fill="none" stroke="#333" stroke-width="1"/>
<rect x="2143.4" y="1510.4" width="18.8" height="2.4" fill="none" stroke="#333" stroke-width="0.8"/>
<rect x="2102.6" y="1568.2" width="67.3" height="67.3" fill="#fff" stroke="#444" stroke-width="1"/>
<circle cx="2136.9" cy="1601.7" r="25.7" fill="none" stroke="#333" stroke-width="1"/>
<circle cx="2136.9" cy="1601.7" r="20.2" fill="none" stroke="#333" stroke-width="1"/>
<circle cx="2137" cy="1601.7" r="1.8" fill="none" stroke="#333" stroke-width="1"/>
<rect x="2143.4" y="1600.5" width="18.8" height="2.4" fill="none" stroke="#333" stroke-width="0.8"/>
<path d="M2013.7 1753.3H2058.4V1819.6" fill="none" stroke="#444" stroke-width="1"/>
<path d="M2167.5 1742.9H2156.4Q2151.9 1742.9 2151.9 1747.4V1782Q2151.9 1786.5 2156.4 1786.5H2167.5" fill="#fff" stroke="#333" stroke-width="1"/>
<path d="M2151.9 1749.8H2147V1779.6H2151.9" fill="none" stroke="#333" stroke-width="1"/>
<path d="M2147 1749.3L2124 1744.8C2106 1744.8 2098.8 1756 2098.8 1764.7C2098.8 1774 2106 1784.6 2124 1784.6L2147 1780.2" fill="#fff" stroke="#333" stroke-width="1"/>
<ellipse cx="2122.2" cy="1764.7" rx="18.9" ry="15.6" fill="none" stroke="#333" stroke-width="1"/>
<path d="M1277 1388.6V1455.3H1619.9V1686.1H1687" fill="none" stroke="#555" stroke-width="1"/>
<rect x="1363.3" y="1395.4" width="170.2" height="52" fill="#fff" stroke="#444" stroke-width="1"/>
<rect x="1367.3" y="1399.4" width="42.3" height="44" rx="4" fill="none" stroke="#333" stroke-width="1"/>
<rect x="1413.5" y="1399.4" width="32.7" height="44" rx="4" fill="none" stroke="#333" stroke-width="1"/>
<rect x="1450.2" y="1399.4" width="33.1" height="44" rx="4" fill="none" stroke="#333" stroke-width="1"/>
<rect x="1487.3" y="1399.4" width="42.5" height="44" rx="4" fill="none" stroke="#333" stroke-width="1"/>
<line x1="1368.3" y1="1403.8" x2="1408.6" y2="1403.8" stroke="#444" stroke-width="0.8"/>
<line x1="1368.3" y1="1408.1" x2="1408.6" y2="1408.1" stroke="#444" stroke-width="0.8"/>
<line x1="1368.3" y1="1412.4" x2="1408.6" y2="1412.4" stroke="#444" stroke-width="0.8"/>
<line x1="1368.3" y1="1416.7" x2="1408.6" y2="1416.7" stroke="#444" stroke-width="0.8"/>
<line x1="1368.3" y1="1421" x2="1408.6" y2="1421" stroke="#444" stroke-width="0.8"/>
<line x1="1368.3" y1="1425.3" x2="1408.6" y2="1425.3" stroke="#444" stroke-width="0.8"/>
<line x1="1368.3" y1="1429.6" x2="1408.6" y2="1429.6" stroke="#444" stroke-width="0.8"/>
<line x1="1368.3" y1="1433.9" x2="1408.6" y2="1433.9" stroke="#444" stroke-width="0.8"/>
<line x1="1368.3" y1="1438.2" x2="1408.6" y2="1438.2" stroke="#444" stroke-width="0.8"/>
<line x1="1488.3" y1="1403.8" x2="1528.8" y2="1403.8" stroke="#444" stroke-width="0.8"/>
<line x1="1488.3" y1="1408.1" x2="1528.8" y2="1408.1" stroke="#444" stroke-width="0.8"/>
<line x1="1488.3" y1="1412.4" x2="1528.8" y2="1412.4" stroke="#444" stroke-width="0.8"/>
<line x1="1488.3" y1="1416.7" x2="1528.8" y2="1416.7" stroke="#444" stroke-width="0.8"/>
<line x1="1488.3" y1="1421" x2="1528.8" y2="1421" stroke="#444" stroke-width="0.8"/>
<line x1="1488.3" y1="1425.3" x2="1528.8" y2="1425.3" stroke="#444" stroke-width="0.8"/>
<line x1="1488.3" y1="1429.6" x2="1528.8" y2="1429.6" stroke="#444" stroke-width="0.8"/>
<line x1="1488.3" y1="1433.9" x2="1528.8" y2="1433.9" stroke="#444" stroke-width="0.8"/>
<line x1="1488.3" y1="1438.2" x2="1528.8" y2="1438.2" stroke="#444" stroke-width="0.8"/>
<circle cx="1429.9" cy="1421.1" r="1.8" fill="none" stroke="#222" stroke-width="1"/>
<circle cx="1466.5" cy="1421.1" r="1.8" fill="none" stroke="#222" stroke-width="1"/>
<rect x="1628.3" y="1541.6" width="47.2" height="58.8" fill="#fff" stroke="#444" stroke-width="1"/>
<circle cx="1639.8" cy="1556" r="7.7" fill="none" stroke="#333" stroke-width="1"/>
<circle cx="1662.1" cy="1556" r="9.2" fill="none" stroke="#333" stroke-width="1"/>
<circle cx="1639.8" cy="1585.4" r="7.7" fill="none" stroke="#333" stroke-width="1"/>
<circle cx="1662.1" cy="1585.4" r="9.2" fill="none" stroke="#333" stroke-width="1"/>
<path d="M1900.8 1376.3V1292.6H1990.4V1376.3M1900.8 1320.7H1990.4M1900.8 1348.8H1990.4" fill="none" stroke="#333" stroke-width="1"/>
<line x1="1945.7" y1="1272.4" x2="1945.7" y2="1326" stroke="#333" stroke-width="1"/>
<path d="M1934.8 1324.9H1956.6L1945.7 1349Z" fill="#000"/>
<text x="1924.38" y="1260.6" font-size="27.77" textLength="41.15" lengthAdjust="spacingAndGlyphs" fill="#000">UP</text>
<text x="1031.07" y="1597.9" font-size="47.41" textLength="172.8" lengthAdjust="spacingAndGlyphs" fill="#000">FAMILY</text>
<text x="1040.74" y="1650" font-size="40.12" textLength="158.11" lengthAdjust="spacingAndGlyphs" fill="#000">2.8 x 3.9</text>
<text x="1332.74" y="1586" font-size="47.41" textLength="233.46" lengthAdjust="spacingAndGlyphs" fill="#000">KITCHEN /</text>
<text x="1369.44" y="1643.2" font-size="47.41" textLength="161.84" lengthAdjust="spacingAndGlyphs" fill="#000">MEALS</text>
<text x="1373.18" y="1695.1" font-size="40.12" textLength="157.06" lengthAdjust="spacingAndGlyphs" fill="#000">3.6 x 3.9</text>
<text x="1931.48" y="1557.8" font-size="47.41" textLength="148.16" lengthAdjust="spacingAndGlyphs" fill="#000">L' DRY</text>
<text transform="translate(1761.5 1605.5) rotate(-90)" x="-3.74" y="0" font-size="49.09" textLength="126.53" lengthAdjust="spacingAndGlyphs" fill="#000">BATH</text>
<text x="1857.48" y="1997.4" font-size="47.41" textLength="244.22" lengthAdjust="spacingAndGlyphs" fill="#000">BEDROOM</text>
<text x="1901.35" y="2049.4" font-size="40.12" textLength="156.9" lengthAdjust="spacingAndGlyphs" fill="#000">3.4 x 3.2</text>
<text x="1857.48" y="2401.6" font-size="47.41" textLength="244.22" lengthAdjust="spacingAndGlyphs" fill="#000">BEDROOM</text>
<text x="1901.36" y="2454.1" font-size="40.12" textLength="155.88" lengthAdjust="spacingAndGlyphs" fill="#000">3.4 x 3.9</text>
<text x="1348.9" y="2183.1" font-size="47.41" textLength="200.37" lengthAdjust="spacingAndGlyphs" fill="#000">LOUNGE</text>
<text x="1371.35" y="2235.7" font-size="40.12" textLength="156.26" lengthAdjust="spacingAndGlyphs" fill="#000">2.9 x 4.4</text>
<text x="1024.04" y="2180.1" font-size="47.41" textLength="173.17" lengthAdjust="spacingAndGlyphs" fill="#000">PORCH</text>
<text x="1387.83" y="2576.4" font-size="47.41" textLength="172.75" lengthAdjust="spacingAndGlyphs" fill="#000">PORCH</text>
<text x="1400.1" y="2410.3" font-size="28.05" textLength="76.92" lengthAdjust="spacingAndGlyphs" fill="#000">HEAT</text>
<text transform="translate(944.6 2672.4) rotate(33.7)" x="0" y="0" font-size="28.47" textLength="38" lengthAdjust="spacingAndGlyphs" fill="#000">UP</text>
<path d="M109.4 951.5H362.7V1187Q362.7 1222 327.4 1224.7L302.6 1229.2Q279.1 1234 279.1 1257.9L109.4 1279.7Z" fill="#e3e3e3" stroke="#444" stroke-width="1"/>
<path d="M388.2 951.5H875V1212.5H426.5Q388.2 1212.5 388.2 1175Z" fill="#e3e3e3" stroke="#444" stroke-width="1"/>
<line x1="279.1" y1="1257.9" x2="430" y2="1238.3" stroke="#444" stroke-width="1"/>
<path d="M109.4 1406.6H196.3A61.3 60.6 0 0 1 257.6 1467.2V1680.4H109.4Z" fill="#e3e3e3" stroke="#444" stroke-width="1"/>
<line x1="109.4" y1="1680.4" x2="353.6" y2="1680.4" stroke="#444" stroke-width="1"/>
<path d="M109.4 1680.4H257.6V2139A23.5 23.5 0 0 1 302.8 2126.6L126 2400H109.4Z" fill="#e3e3e3" stroke="#444" stroke-width="1"/>
<line x1="135.1" y1="1680.4" x2="135.1" y2="2323.2" stroke="#444" stroke-width="1"/>
<line x1="134.6" y1="2323.2" x2="257.6" y2="2139" stroke="#444" stroke-width="1"/>
<path d="M299.9 1680.4H353.6V2054.8L342.4 2072.2Q333 2087 321.4 2087Q299.9 2087 299.9 2065Z" fill="#e3e3e3" stroke="#444" stroke-width="1"/>
<path d="M404.1 2088.5L196.5 2400H875V2088.5Z" fill="#e3e3e3" stroke="#444" stroke-width="1"/>
<path d="M424 2137.7L264.5 2374H849.8V2150.3Q849.8 2130.3 829.8 2130.3H436.4Q429 2130.3 424 2137.7Z" fill="none" stroke="#444" stroke-width="1"/>
<rect x="109.4" y="951.5" width="765.6" height="1448.5" fill="none" stroke="#444" stroke-width="1.1"/>
<rect x="109.2" y="1302.2" width="41.3" height="2.9" fill="#000"/>
<rect x="109.2" y="1382.6" width="41.3" height="2.9" fill="#000"/>
<path d="M150.5 1305.1A41.3 37.9 0 0 1 109.2 1343" fill="none" stroke="#222" stroke-width="1"/>
<path d="M109.2 1343A41.3 39.6 0 0 1 150.5 1382.6" fill="none" stroke="#222" stroke-width="1"/>
<rect x="432.4" y="1240.4" width="380.8" height="185.1" fill="#ebebeb" stroke="#000" stroke-width="5.6"/>
<path d="M353.6 1613.2H816V2088.7H663.4V2016.8H474.1V1785H353.6Z" fill="#ebebeb"/>
<path d="M353.8 1785H474.1V2016.8H663.4V2088.5H404.1L353.8 2054.7Z" fill="#f4f4f4"/>
<path d="M356.2 1615.8H813.4V2086.1H666.1V2014.3H476.6V1782.5H356.2Z" fill="none" stroke="#000" stroke-width="5.2"/>
<line x1="353.8" y1="1785" x2="353.8" y2="2036.8" stroke="#444" stroke-width="1"/>
<line x1="404.1" y1="2088.5" x2="663.4" y2="2088.5" stroke="#444" stroke-width="1"/>
<rect x="353.8" y="2036.8" width="18" height="17.9" fill="#000"/>
<rect x="404.1" y="2070.2" width="17.9" height="18.3" fill="#000"/>
<path d="M353.8 2054.7L404.1 2088.5L392.4 2105.9L342.1 2072.1Z" fill="#fff" stroke="#333" stroke-width="1"/>
<line x1="348" y1="2063.4" x2="398.2" y2="2097.2" stroke="#333" stroke-width="1"/>
<line x1="363.4" y1="2095.9" x2="374" y2="2079" stroke="#333" stroke-width="0.9"/>
<path d="M379 2071.4L371.2 2078L376.7 2081.5Z" fill="#000"/>
<text transform="translate(352 2098) rotate(33.7)" x="0" y="0" font-size="11.92" textLength="13.5" lengthAdjust="spacingAndGlyphs" fill="#000">UP</text>
<path d="M710 1613.2V1581.5H744.2V1613.2M710 1592.9H744.2M710 1602.5H744.2" fill="none" stroke="#333" stroke-width="1"/>
<line x1="726.9" y1="1574.8" x2="726.9" y2="1595" stroke="#333" stroke-width="1"/>
<path d="M722.4 1594H731.6L727 1603.3Z" fill="#000"/>
<text x="718.85" y="1569.9" font-size="10.38" textLength="15.67" lengthAdjust="spacingAndGlyphs" fill="#000">UP</text>
<use href="#tree" transform="translate(190.3 1045.1) scale(22.3)"/>
<use href="#tree" transform="translate(221.7 1041.9) scale(12.4)"/>
<use href="#tree" transform="translate(168.8 1069.9) scale(16.8)"/>
<use href="#tree" transform="translate(276.9 1184.9) scale(22.3)"/>
<use href="#tree" transform="translate(297.9 1163.9) scale(12.9)"/>
<use href="#tree" transform="translate(247.2 1197.3) scale(12.4)"/>
<use href="#tree" transform="translate(524.1 1026.1) scale(15.4)"/>
<use href="#tree" transform="translate(562.7 1017.2) scale(27.6)"/>
<use href="#tree" transform="translate(657.6 1032.6) scale(16)"/>
<use href="#tree" transform="translate(737.8 1040.9) scale(12.8)"/>
<use href="#tree" transform="translate(483.1 1115.1) scale(11.9)"/>
<use href="#tree" transform="translate(500 1132.3) scale(22.3)"/>
<use href="#tree" transform="translate(782.9 1111.6) scale(15.7)"/>
<use href="#tree" transform="translate(720 1152.8) scale(15.7)"/>
<use href="#tree" transform="translate(756.2 1137.4) scale(27.6)"/>
<use href="#tree" transform="translate(175.3 1469.4) scale(22.3)"/>
<use href="#tree" transform="translate(159.4 1537.7) scale(22.3)"/>
<use href="#tree" transform="translate(184.1 1605.2) scale(43.3)"/>
<use href="#tree" transform="translate(856.5 1522.9) scale(20.3)"/>
<use href="#tree" transform="translate(124.7 1726.8) scale(15.6)"/>
<use href="#treeS" transform="translate(121.8 1773.8) scale(9.4)"/>
<use href="#tree" transform="translate(126 1801.5) scale(16)"/>
<use href="#treeS" transform="translate(121.8 1822) scale(9.4)"/>
<use href="#tree" transform="translate(126 1869) scale(16)"/>
<use href="#treeS" transform="translate(121.8 1898) scale(9.4)"/>
<use href="#tree" transform="translate(126 1923.4) scale(16)"/>
<use href="#treeS" transform="translate(121.8 1943.2) scale(9.4)"/>
<use href="#treeS" transform="translate(121.8 1972.2) scale(9.4)"/>
<use href="#treeS" transform="translate(121.8 1999.4) scale(9.4)"/>
<use href="#treeS" transform="translate(121.8 2029) scale(9.4)"/>
<use href="#tree" transform="translate(126 2042.2) scale(16)"/>
<use href="#treeS" transform="translate(121.8 2052.4) scale(9.4)"/>
<use href="#tree" transform="translate(127.7 2087) scale(21)"/>
<use href="#treeS" transform="translate(121.8 2116.2) scale(9.4)"/>
<use href="#treeS" transform="translate(121.8 2147.6) scale(9.4)"/>
<use href="#treeS" transform="translate(121.8 2172.8) scale(9.4)"/>
<use href="#tree" transform="translate(126 2195.8) scale(16)"/>
<use href="#treeS" transform="translate(121.8 2222.3) scale(9.4)"/>
<use href="#tree" transform="translate(126 2241.6) scale(16)"/>
<use href="#tree" transform="translate(126 2287.4) scale(16)"/>
<use href="#tree" transform="translate(326.3 1702.5) scale(13.4)"/>
<use href="#tree" transform="translate(327.1 1739.2) scale(21)"/>
<use href="#tree" transform="translate(326.3 1781.7) scale(13.4)"/>
<use href="#tree" transform="translate(326.3 1822) scale(13.4)"/>
<use href="#tree" transform="translate(326.3 1861.6) scale(13.4)"/>
<use href="#tree" transform="translate(326.3 1913.6) scale(13.4)"/>
<use href="#tree" transform="translate(327.1 1883.9) scale(21)"/>
<use href="#tree" transform="translate(326.3 1958.1) scale(13.4)"/>
<use href="#tree" transform="translate(326.3 2002.6) scale(13.4)"/>
<use href="#tree" transform="translate(326.3 2053.3) scale(13.4)"/>
<use href="#tree" transform="translate(327.1 2029.8) scale(21)"/>
<use href="#treeS" transform="translate(288 2124.8) scale(9.4)"/>
<use href="#treeS" transform="translate(271.9 2147.6) scale(9.4)"/>
<use href="#treeS" transform="translate(255.8 2169.9) scale(9.4)"/>
<use href="#treeS" transform="translate(241.5 2194.6) scale(9.4)"/>
<use href="#treeS" transform="translate(225.4 2218.6) scale(9.4)"/>
<use href="#treeS" transform="translate(208.8 2242.8) scale(9.4)"/>
<use href="#treeS" transform="translate(192.3 2267.1) scale(9.4)"/>
<use href="#treeS" transform="translate(175.9 2291.1) scale(9.4)"/>
<use href="#treeS" transform="translate(159.4 2315.3) scale(9.4)"/>
<use href="#treeS" transform="translate(142.8 2339.8) scale(9.4)"/>
<use href="#treeS" transform="translate(126.5 2364) scale(9.4)"/>
<use href="#treeS" transform="translate(409.2 2121.6) scale(9.4)"/>
<use href="#treeS" transform="translate(394.4 2142.7) scale(9.4)"/>
<use href="#treeS" transform="translate(378.3 2168.1) scale(9.4)"/>
<use href="#treeS" transform="translate(361.5 2191.6) scale(9.4)"/>
<use href="#treeS" transform="translate(345.4 2215.1) scale(9.4)"/>
<use href="#treeS" transform="translate(329.6 2240.4) scale(9.4)"/>
<use href="#treeS" transform="translate(314 2265.1) scale(9.4)"/>
<use href="#treeS" transform="translate(298.4 2290.3) scale(9.4)"/>
<use href="#treeS" transform="translate(282.6 2315.3) scale(9.4)"/>
<use href="#treeS" transform="translate(267 2340.1) scale(9.4)"/>
<use href="#treeS" transform="translate(247.9 2365.3) scale(9.4)"/>
<use href="#treeS" transform="translate(229.1 2390) scale(9.4)"/>
<use href="#tree" transform="translate(475.3 2110.5) scale(13.4)"/>
<use href="#tree" transform="translate(510.5 2111) scale(13)"/>
<use href="#tree" transform="translate(557 2111) scale(13)"/>
<use href="#tree" transform="translate(534.4 2111) scale(21.8)"/>
<use href="#tree" transform="translate(592 2111) scale(13.4)"/>
<use href="#tree" transform="translate(630.2 2111) scale(13.4)"/>
<use href="#tree" transform="translate(664.3 2111) scale(13)"/>
<use href="#tree" transform="translate(710 2111) scale(13.4)"/>
<use href="#tree" transform="translate(684.1 2111) scale(22)"/>
<use href="#tree" transform="translate(747.2 2111) scale(13.4)"/>
<use href="#tree" transform="translate(786 2111) scale(13)"/>
<use href="#tree" transform="translate(812.7 2111) scale(16.6)"/>
<use href="#tree" transform="translate(862.7 2165) scale(11.4)"/>
<use href="#tree" transform="translate(857.2 2193.4) scale(22)"/>
<use href="#tree" transform="translate(861 2241.6) scale(17)"/>
<use href="#tree" transform="translate(855.3 2276.2) scale(25.5)"/>
<use href="#tree" transform="translate(858.5 2329.4) scale(17)"/>
<use href="#tree" transform="translate(699.7 2237.9) scale(40)"/>
<use href="#tree" transform="translate(346.1 2383.8) scale(17)"/>
<use href="#tree" transform="translate(462.4 2383.8) scale(17)"/>
<use href="#tree" transform="translate(395.6 2378.9) scale(26)"/>
<use href="#tree" transform="translate(514.6 2383.8) scale(17)"/>
<use href="#tree" transform="translate(553.7 2378.9) scale(26)"/>
<use href="#tree" transform="translate(635.1 2383.8) scale(17)"/>
<use href="#tree" transform="translate(689 2383.8) scale(17)"/>
<use href="#tree" transform="translate(769.4 2383.8) scale(15)"/>
<use href="#tree" transform="translate(733.6 2378.9) scale(26)"/>
<use href="#tree" transform="translate(825.1 2383.8) scale(17)"/>
<text x="188.99" y="1098.3" font-size="25.81" textLength="101.85" lengthAdjust="spacingAndGlyphs" fill="#000">VEGGIE</text>
<text x="182.37" y="1130.5" font-size="25.81" textLength="114.3" lengthAdjust="spacingAndGlyphs" fill="#000">GARDEN</text>
<text x="519.4" y="1089.9" font-size="25.81" textLength="223.63" lengthAdjust="spacingAndGlyphs" fill="#000">VEGGIE GARDEN</text>
<text x="560.97" y="1311.6" font-size="24.83" textLength="121.62" lengthAdjust="spacingAndGlyphs" fill="#000">GARAGE /</text>
<text x="567.18" y="1342.1" font-size="24.83" textLength="109.21" lengthAdjust="spacingAndGlyphs" fill="#000">STUDIO /</text>
<text x="549.2" y="1373.3" font-size="24.83" textLength="149.21" lengthAdjust="spacingAndGlyphs" fill="#000">WORKSHOP</text>
<text x="518.33" y="1832" font-size="44.32" textLength="258.28" lengthAdjust="spacingAndGlyphs" fill="#000">RESIDENCE</text>
<text x="367.29" y="1900" font-size="24.69" textLength="94.41" lengthAdjust="spacingAndGlyphs" fill="#000">PORCH</text>
<text x="520.28" y="2059.1" font-size="24.69" textLength="93.62" lengthAdjust="spacingAndGlyphs" fill="#000">PORCH</text>
<text x="111.54" y="2480.3" font-size="42.08" textLength="216.14" lengthAdjust="spacingAndGlyphs" fill="#000">SITE PLAN</text>
<text x="110.39" y="3136" font-size="32.26" textLength="2079.61" lengthAdjust="spacingAndGlyphs" fill="#000">Please note: All stated dimensions are approximate only. Particulars given are for general information only and do not constitute any representation on the part of the vendor or agent.</text>
<path d="M51.55 3170.4L62.2 3151.2L72.85 3170.4ZM62.2 3151.2L83.5 3151.2L72.85 3170.4ZM72.85 3170.4L83.5 3151.2L94.15 3170.4ZM40.9 3189.6L51.55 3170.4L62.2 3189.6ZM51.55 3170.4L72.85 3170.4L62.2 3189.6ZM72.85 3170.4L94.15 3170.4L83.5 3189.6ZM83.5 3189.6L94.15 3170.4L104.8 3189.6ZM40.9 3189.6L62.2 3189.6L51.55 3208.8ZM51.55 3208.8L62.2 3189.6L72.85 3208.8ZM62.2 3189.6L83.5 3189.6L72.85 3208.8ZM83.5 3189.6L104.8 3189.6L94.15 3208.8Z" fill="#000" stroke="#fff" stroke-width="0.9" stroke-linejoin="round"/>
</svg></body></html>
